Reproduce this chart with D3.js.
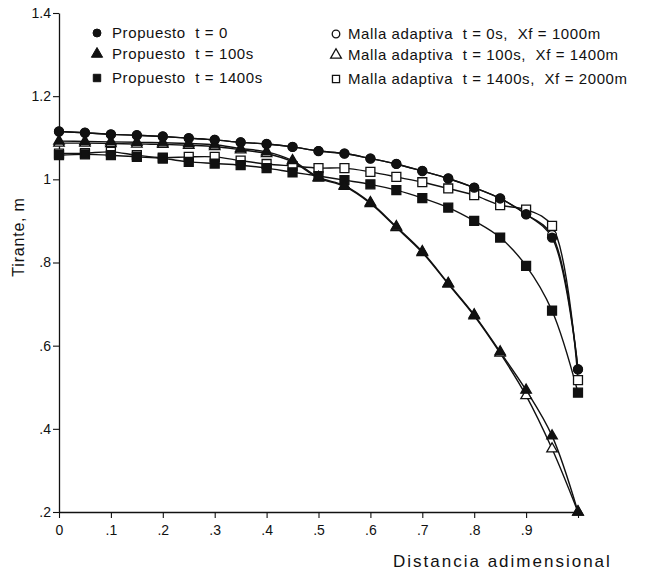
<!DOCTYPE html>
<html>
<head>
<meta charset="utf-8">
<script src="https://cdn.jsdelivr.net/npm/d3@7"></script>
<style>
  body { margin: 0; background: #fff; }
  svg text { font-family: "Liberation Sans", Arial, sans-serif; fill: #111; }
</style>
</head>
<body>
<div id="chart"></div>
<script>
'use strict'
// distancia adimensional (same nodes for every series)
const xs = [0, .05, .1, .15, .2, .25, .3, .35, .4, .45, .5, .55, .6, .65, .7, .75, .8, .85, .9, .95, 1]

const propuesto0    = [1.115, 1.112, 1.108, 1.106, 1.103, 1.099, 1.095, 1.089, 1.085, 1.078, 1.068, 1.062, 1.050, 1.037, 1.020, 1.002, 0.980, 0.954, 0.916, 0.860, 0.543]
const propuesto100  = [1.092, 1.091, 1.090, 1.089, 1.088, 1.086, 1.083, 1.074, 1.066, 1.045, 1.005, 0.985, 0.944, 0.886, 0.826, 0.750, 0.674, 0.585, 0.493, 0.383, 0.200]
const propuesto1400 = [1.058, 1.060, 1.058, 1.054, 1.050, 1.042, 1.038, 1.034, 1.027, 1.017, 1.008, 0.998, 0.988, 0.974, 0.955, 0.932, 0.900, 0.860, 0.792, 0.684, 0.487]
const malla0        = [1.115, 1.112, 1.108, 1.106, 1.103, 1.099, 1.095, 1.089, 1.085, 1.078, 1.068, 1.062, 1.050, 1.037, 1.020, 1.002, 0.980, 0.954, 0.916, 0.866, 0.543]
const malla100      = [1.087, 1.087, 1.086, 1.085, 1.084, 1.082, 1.079, 1.071, 1.062, 1.042, 1.003, 0.983, 0.942, 0.884, 0.824, 0.748, 0.672, 0.582, 0.480, 0.352, 0.200]
const malla1400     = [1.062, 1.063, 1.066, 1.058, 1.052, 1.054, 1.054, 1.045, 1.037, 1.032, 1.027, 1.027, 1.018, 1.006, 0.993, 0.978, 0.962, 0.938, 0.927, 0.888, 0.517]

const xTicks = [0, .1, .2, .3, .4, .5, .6, .7, .8, .9, 1]
const xTickLabels = ["0", ".1", ".2", ".3", ".4", ".5", ".6", ".7", ".8", ".9", ""]
const yTicks = [.2, .4, .6, .8, 1, 1.2, 1.4]
const yTickLabels = [".2", ".4", ".6", ".8", "1", "1.2", "1.4"]

const legendLeft = ["Propuesto  t = 0", "Propuesto  t = 100s", "Propuesto  t = 1400s"]
const legendRight = ["Malla adaptiva  t = 0s,  Xf = 1000m", "Malla adaptiva  t = 100s,  Xf = 1400m", "Malla adaptiva  t = 1400s,  Xf = 2000m"]

const W = 654, H = 572
const margin = {left: 59, right: 76, top: 13, bottom: 60}

const svg = d3.select("#chart")
  .append("svg")
    .attr("width", W)
    .attr("height", H)

const x = d3.scaleLinear()
  .domain([0, 1])
  .range([margin.left, W - margin.right])
const y = d3.scaleLinear()
  .domain([0.2, 1.4])
  .range([H - margin.bottom, margin.top])

// axes
const xAxis = svg.append("g")
  .attr("transform", `translate(0,${y(0.2)})`)
  .call(d3.axisBottom(x).tickValues(xTicks).tickSize(6).tickSizeOuter(0)
    .tickFormat((d, i) => xTickLabels[i]))
const yAxis = svg.append("g")
  .attr("transform", `translate(${x(0)},0)`)
  .call(d3.axisLeft(y).tickValues(yTicks).tickSize(6).tickSizeOuter(0)
    .tickFormat((d, i) => yTickLabels[i]))
for (const g of [xAxis, yAxis]){
  g.select(".domain").attr("stroke", "#111").attr("stroke-width", 1.3)
  g.selectAll(".tick line").attr("stroke", "#111").attr("stroke-width", 1.1)
  g.selectAll(".tick text").attr("font-size", 14).attr("fill", "#111")
    .style("font-family", "'Liberation Sans', Arial, sans-serif")
}
xAxis.selectAll(".tick text").attr("dy", "1.0em")
yAxis.selectAll(".tick text").attr("x", -8)

svg.append("text")
  .attr("x", 393)
  .attr("y", 567)
  .attr("font-size", 17)
  .attr("letter-spacing", 2)
  .text("Distancia adimensional")
svg.append("text")
  .attr("transform", `translate(24,${237}) rotate(-90)`)
  .attr("text-anchor", "middle")
  .attr("font-size", 16)
  .attr("letter-spacing", 0.8)
  .text("Tirante, m")

// series
const series = [
  {vals: malla0, sym: d3.symbolCircle, size: 60, filled: false},
  {vals: malla100, sym: d3.symbolTriangle, size: 48, filled: false},
  {vals: malla1400, sym: d3.symbolSquare, size: 80, filled: false},
  {vals: propuesto1400, sym: d3.symbolSquare, size: 80, filled: true},
  {vals: propuesto100, sym: d3.symbolTriangle, size: 48, filled: true},
  {vals: propuesto0, sym: d3.symbolCircle, size: 64, filled: true}
]
const line = d3.line()
  .x((d, i) => x(xs[i]))
  .y(d => y(d))
  .curve(d3.curveCatmullRom.alpha(0.5))

for (const s of series){
  svg.append("path")
    .datum(s.vals)
    .attr("d", line)
    .attr("fill", "none")
    .attr("stroke", "#111")
    .attr("stroke-width", 1.4)
}
for (const s of series){
  svg.append("g")
    .selectAll("path")
    .data(s.vals)
    .enter()
      .append("path")
      .attr("d", d3.symbol().type(s.sym).size(s.size))
      .attr("transform", (d, i) => `translate(${x(xs[i])},${y(d)})`)
      .attr("fill", s.filled ? "#111" : "#fff")
      .attr("stroke", "#111")
      .attr("stroke-width", 1.3)
}

// legend
const legendSyms = [d3.symbolCircle, d3.symbolTriangle, d3.symbolSquare]
const legendY = [33, 54, 78]
legendLeft.forEach((t, i) => {
  svg.append("path")
    .attr("d", d3.symbol().type(legendSyms[i]).size(i === 0 ? 50 : 55))
    .attr("transform", `translate(97,${legendY[i]})`)
    .attr("fill", "#111")
    .attr("stroke", "#111")
  svg.append("text")
    .attr("x", 112)
    .attr("y", legendY[i] + 5)
    .attr("font-size", 15)
    .attr("letter-spacing", 0.6)
    .style("white-space", "pre")
    .text(t)
})
legendRight.forEach((t, i) => {
  svg.append("path")
    .attr("d", d3.symbol().type(legendSyms[i]).size(i === 0 ? 45 : 50))
    .attr("transform", `translate(336,${legendY[i] + 1})`)
    .attr("fill", "#fff")
    .attr("stroke", "#111")
    .attr("stroke-width", 1.3)
  svg.append("text")
    .attr("x", 348)
    .attr("y", legendY[i] + 6)
    .attr("font-size", 15)
    .attr("letter-spacing", 0.6)
    .style("white-space", "pre")
    .text(t)
})
</script>
</body>
</html>
